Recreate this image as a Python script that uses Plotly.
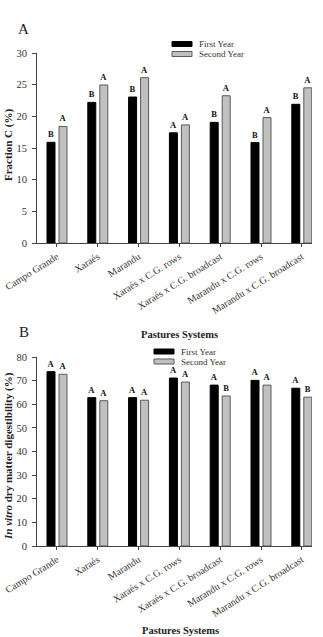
import plotly.graph_objects as go

categories = ["Campo Grande", "Xaraés", "Marandu", "Xaraés x C.G. rows",
              "Xaraés x C.G. broadcast", "Marandu x C.G. rows", "Marandu x C.G. broadcast"]
series_names = ["First Year", "Second Year"]

frac_first = [15.9, 22.2, 23.05, 17.4, 19.05, 15.85, 21.9]
frac_second = [18.4, 24.95, 26.1, 18.65, 23.25, 19.8, 24.5]
frac_first_letters = ["B", "B", "B", "A", "B", "B", "B"]
frac_second_letters = ["A", "A", "A", "A", "A", "A", "A"]

ivdmd_first = [73.8, 62.8, 62.8, 71.1, 68.1, 70.1, 66.8]
ivdmd_second = [72.7, 61.5, 61.7, 69.4, 63.5, 68.1, 63.0]
ivdmd_first_letters = ["A", "A", "A", "A", "A", "A", "A"]
ivdmd_second_letters = ["A", "A", "A", "A", "B", "A", "B"]

frac_ticks = [0, 5, 10, 15, 20, 25, 30]
ivdmd_ticks = [0, 10, 20, 30, 40, 50, 60, 70, 80]

W, H = 323, 637
SERIF = "Liberation Serif, Times New Roman, serif"
fills = ["#000000", "#c0c0c0"]
lines = ["#000000", "#5a5a5a"]
offsets = [-0.245, 0.049]
bw = 0.196

def px(x):
    return x / W

def py(y):
    return 1 - y / H

fig = go.Figure()

panels = [
    ("x", "y", [frac_first, frac_second], [frac_first_letters, frac_second_letters]),
    ("x2", "y2", [ivdmd_first, ivdmd_second], [ivdmd_first_letters, ivdmd_second_letters]),
]
for xa, ya, vals, letters in panels:
    for i in range(2):
        fig.add_trace(go.Bar(
            x=categories, y=vals[i], name=series_names[i],
            xaxis=xa, yaxis=ya, width=bw, offset=offsets[i],
            marker=dict(color=fills[i], line=dict(color=lines[i], width=1)),
            text=letters[i], textposition="outside", constraintext="none",
            textfont=dict(family=SERIF, size=8.5, color="#111"),
            texttemplate="<b>%{text}</b>", cliponaxis=False, showlegend=False,
        ))

xdom = [px(37), px(312)]
axis_common = dict(showline=True, linecolor="#444", linewidth=1, ticks="outside",
                   tickcolor="#444", showgrid=False, zeroline=False,
                   automargin=False)
xfont = dict(family=SERIF, size=10, color="#333")
yfont = dict(family=SERIF, size=10.5, color="#333")

fig.update_layout(
    width=W, height=H, margin=dict(l=0, r=0, t=0, b=0),
    paper_bgcolor="white", plot_bgcolor="white", barmode="overlay",
    xaxis=dict(domain=xdom, anchor="y", type="category", range=[-0.49, 6.25],
               tickangle=-32, tickfont=xfont, ticklen=3, **axis_common),
    yaxis=dict(domain=[py(243), py(53)], anchor="x", range=[0, 30],
               tickvals=frac_ticks, tickfont=yfont, ticklen=4, ticklabelstandoff=3, **axis_common),
    xaxis2=dict(domain=xdom, anchor="y2", type="category", range=[-0.49, 6.25],
                tickangle=-32, tickfont=xfont, ticklen=3, **axis_common),
    yaxis2=dict(domain=[py(546), py(357)], anchor="x2", range=[0, 80],
                tickvals=ivdmd_ticks, tickfont=yfont, ticklen=4, ticklabelstandoff=3, **axis_common),
)

ann = []
# panel letters
ann.append(dict(x=px(23), y=py(29), text="A", font=dict(family=SERIF, size=15, color="#222")))
ann.append(dict(x=px(24), y=py(332), text="B", font=dict(family=SERIF, size=15, color="#222")))
# y titles
ann.append(dict(x=px(8), y=py(145), text="<b>Fraction C (%)</b>", textangle=-90,
                font=dict(family=SERIF, size=11, color="#222")))
ann.append(dict(x=px(8), y=py(456), text="<b><i>In vitro</i> dry matter digestibility (%)</b>",
                textangle=-90, font=dict(family=SERIF, size=11, color="#222")))
# x titles
ann.append(dict(x=px(179), y=py(334), text="<b>Pastures Systems</b>",
                font=dict(family=SERIF, size=10.5, color="#222")))
ann.append(dict(x=px(180), y=py(630), text="<b>Pastures Systems</b>",
                font=dict(family=SERIF, size=10.5, color="#222")))

shapes = []
for (lx, ly) in [(172, 44), (154, 351.5)]:
    for i in range(2):
        yc = ly + i * 10
        shapes.append(dict(type="rect", xref="paper", yref="paper",
                           x0=px(lx), x1=px(lx + 20), y0=py(yc + 2.5), y1=py(yc - 2.5),
                           fillcolor=fills[i], line=dict(color=lines[i], width=1)))
        ann.append(dict(x=px(lx + 25), y=py(yc), text=series_names[i], xanchor="left",
                        font=dict(family=SERIF, size=9, color="#333")))

for a in ann:
    a.setdefault("xref", "paper")
    a.setdefault("yref", "paper")
    a.setdefault("showarrow", False)
    a.setdefault("xanchor", "center")
    a.setdefault("yanchor", "middle")
fig.update_layout(annotations=ann, shapes=shapes)

fig.write_html("out.html")
